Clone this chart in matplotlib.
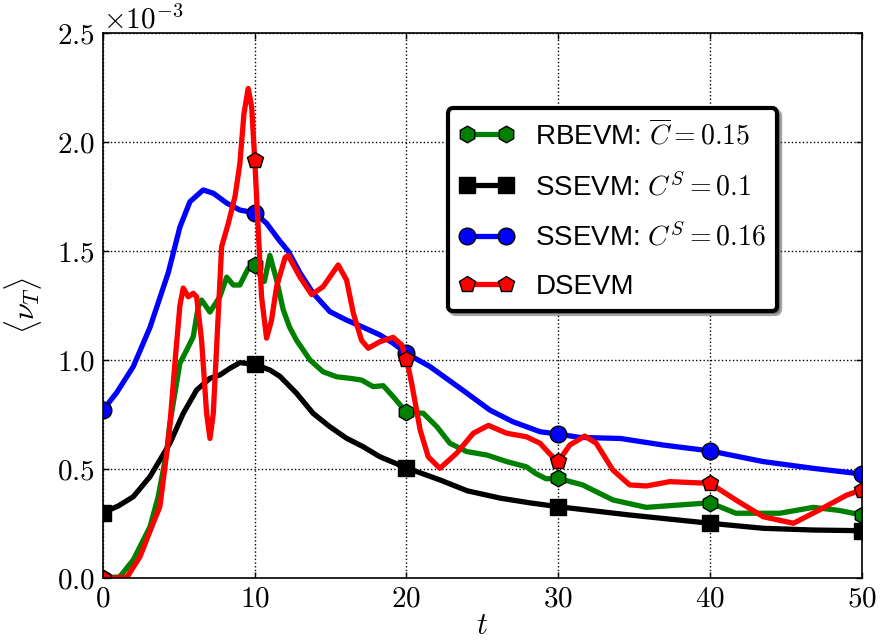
import numpy as np
import matplotlib
matplotlib.use('Agg')
import matplotlib.pyplot as plt

# 読み取った値 (y は 1e-3 単位)
t_rb = [0, 1.1, 2.0, 3.1, 3.64, 4.2, 4.41, 5.07, 5.62, 5.95, 6.28, 6.5, 7.05, 7.7, 8.15,
        8.59, 9.02, 9.57, 10, 10.34, 10.63, 11.0, 11.44, 11.88, 12.3, 12.76, 13.64, 14.5,
        15.4, 16.27, 17.04, 17.8, 18.47, 19.12, 20, 21.1, 22.0, 22.86, 23.96, 25.3, 26.6,
        27.9, 28.5, 29.2, 30, 31.6, 33.6, 35.8, 38.0, 40, 41.7, 44.6, 46.8, 48.5, 50]
y_rb = [0, 0.005, 0.083, 0.235, 0.373, 0.58, 0.71, 0.985, 1.06, 1.107, 1.245, 1.275, 1.22,
        1.29, 1.38, 1.344, 1.344, 1.42, 1.435, 1.39, 1.36, 1.48, 1.367, 1.23, 1.15, 1.09,
        1.0, 0.946, 0.923, 0.916, 0.908, 0.878, 0.882, 0.832, 0.76, 0.756, 0.694, 0.618,
        0.58, 0.564, 0.534, 0.51, 0.48, 0.455, 0.457, 0.427, 0.358, 0.324, 0.335, 0.345,
        0.297, 0.297, 0.324, 0.31, 0.289]

t_ss1 = [0, 1.0, 2.0, 3.1, 4.41, 5.29, 6.17, 7.05, 7.7, 8.37, 9.02, 10, 11.0, 11.66, 12.76,
         13.85, 14.95, 16.05, 17.15, 18.25, 20, 22.2, 24.0, 26.2, 28.1, 30, 34.7, 40, 43.5,
         46.8, 50]
y_ss1 = [0.30, 0.33, 0.373, 0.465, 0.618, 0.755, 0.862, 0.916, 0.931, 0.962, 0.988, 0.98,
         0.954, 0.925, 0.847, 0.755, 0.694, 0.641, 0.602, 0.556, 0.505, 0.45, 0.40, 0.366,
         0.345, 0.327, 0.289, 0.251, 0.228, 0.22, 0.217]

t_ss2 = [0, 0.9, 2.0, 3.1, 4.3, 5.07, 5.73, 6.6, 7.27, 8.15, 9.02, 10, 10.78, 11.66, 12.2,
         12.98, 13.85, 14.95, 16.05, 17.15, 18.25, 19.12, 20, 21.54, 23.7, 25.5, 27.0, 28.8,
         30, 31.4, 34.1, 36.9, 40, 43.5, 46.8, 50]
y_ss2 = [0.77, 0.85, 0.97, 1.15, 1.40, 1.61, 1.726, 1.78, 1.765, 1.72, 1.688, 1.675, 1.627,
         1.545, 1.50, 1.40, 1.306, 1.222, 1.183, 1.15, 1.115, 1.077, 1.03, 0.97, 0.862,
         0.77, 0.717, 0.671, 0.66, 0.645, 0.64, 0.61, 0.583, 0.534, 0.503, 0.477]

t_ds = [0, 0.8, 1.6, 2.44, 3.3, 3.75, 4.2, 4.41, 4.74, 5.07, 5.29, 5.62, 5.95, 6.17, 6.5,
        6.83, 7.05, 7.27, 7.6, 7.82, 8.26, 8.7, 9.02, 9.29, 9.57, 9.8, 10, 10.23, 10.45,
        10.78, 11.1, 11.44, 12.0, 12.2, 12.98, 13.75, 14.5, 15.5, 16.05, 16.5, 17.04, 17.48,
        18.25, 19.12, 19.68, 20, 20.34, 20.9, 21.43, 22.2, 23.3, 24.4, 25.4, 26.6, 27.9,
        28.8, 29.5, 30, 30.76, 31.75, 32.5, 33.6, 34.7, 35.8, 37.35, 40, 41.7, 43.5, 45.5,
        47.2, 49.0, 50]
y_ds = [0, 0, 0.005, 0.098, 0.25, 0.327, 0.572, 0.70, 0.985, 1.25, 1.33, 1.29, 1.306, 1.29,
        1.09, 0.755, 0.64, 0.755, 1.214, 1.52, 1.627, 1.75, 1.90, 2.13, 2.246, 2.16, 1.917,
        1.60, 1.29, 1.10, 1.18, 1.336, 1.47, 1.48, 1.38, 1.30, 1.336, 1.436, 1.367, 1.214,
        1.09, 1.054, 1.084, 1.104, 1.07, 1.005, 0.893, 0.679, 0.556, 0.503, 0.572, 0.664,
        0.70, 0.664, 0.648, 0.618, 0.565, 0.535, 0.61, 0.651, 0.618, 0.495, 0.427, 0.422,
        0.442, 0.434, 0.358, 0.281, 0.251, 0.312, 0.38, 0.404]

labels = [r'RBEVM: $\overline{C}=0.15$', r'SSEVM: $C^S=0.1$',
          r'SSEVM: $C^S=0.16$', 'DSEVM']
mark_t = [0, 10, 20, 30, 40, 50]

plt.rcParams['font.family'] = 'cmr10'
plt.rcParams['mathtext.fontset'] = 'cm'
plt.rcParams['axes.formatter.use_mathtext'] = True
plt.rcParams['font.size'] = 21

fig = plt.figure(figsize=(8.83, 6.41), dpi=100)
ax = fig.add_axes([0.1166, 0.0983, 0.8594, 0.8502])

series = [(t_rb, y_rb, 'green', 'h'), (t_ss1, y_ss1, 'black', 's'),
          (t_ss2, y_ss2, 'blue', 'o'), (t_ds, y_ds, 'red', 'p')]
for (tt, yy, c, m), lab in zip(series, labels):
    tt = np.array(tt)
    idx = [int(i) for i in np.where(np.isin(tt, mark_t))[0]]
    ax.plot(tt, np.array(yy) * 1e-3, color=c, lw=3.8, marker=m, ms=12,
            mec='k', mew=1, markevery=idx, label=lab, solid_joinstyle='round')

ax.set_xlim(0, 50)
ax.set_ylim(0, 2.5e-3)
ax.set_xticks(np.arange(0, 51, 10))
ax.set_yticks(np.arange(0, 2.6e-3, 0.5e-3))
ax.ticklabel_format(axis='y', style='sci', scilimits=(-3, 3))
ax.grid(True, color='k', linestyle=':', linewidth=1)
ax.tick_params(direction='in', length=4, width=1, top=True, right=True, labelsize=21, pad=6)
ax.yaxis.get_offset_text().set_fontsize(21)
for s in ax.spines.values():
    s.set_linewidth(1.2)

ax.set_xlabel(r'$t$', fontsize=22, labelpad=0)
ax.set_ylabel(r'$\langle \nu_T \rangle$', fontsize=22)
ax.yaxis.set_label_coords(-0.078, 0.5)

leg = ax.legend(loc='upper left', bbox_to_anchor=(0.4545, 0.862), borderaxespad=0,
                numpoints=2, handlelength=2.0, handletextpad=0.75, fancybox=True,
                shadow=True, prop={'family': 'Liberation Sans', 'size': 20},
                labelspacing=0.8, framealpha=1, borderpad=0.4)
leg.get_frame().set_edgecolor('k')
leg.get_frame().set_linewidth(3)

fig.savefig('out.png', dpi=100)
